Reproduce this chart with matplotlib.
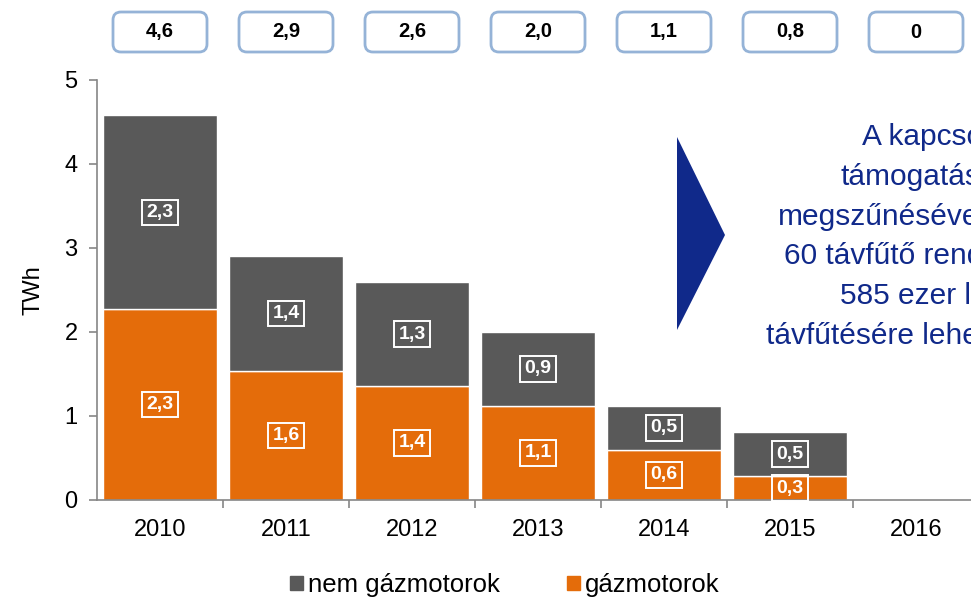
import matplotlib.pyplot as plt
import matplotlib.transforms as mtransforms
from matplotlib.patches import FancyBboxPatch, Polygon, Patch

plt.rcParams['font.family'] = ['Liberation Sans', 'DejaVu Sans']

# ===== DATA =====
years = ['2010', '2011', '2012', '2013', '2014', '2015', '2016']
gaz = [2.27, 1.54, 1.36, 1.12, 0.60, 0.28, 0.0]          # gázmotorok
nem_gaz = [2.31, 1.36, 1.23, 0.88, 0.52, 0.53, 0.0]      # nem gázmotorok
gaz_labels = ['2,3', '1,6', '1,4', '1,1', '0,6', '0,3', '']
nem_gaz_labels = ['2,3', '1,4', '1,3', '0,9', '0,5', '0,5', '']
totals = ['4,6', '2,9', '2,6', '2,0', '1,1', '0,8', '0']
side_lines = ['A kapcsolt termelés', 'támogatásának', 'megszűnésével',
              '60 távfűtő rendszer', '585 ezer lakás', 'távfűtésére lehet hatással']

ORANGE = '#E46C0A'
GRAY = '#595959'
NAVY = '#10298A'
AXIS = '#868686'

fig = plt.figure(figsize=(9.71, 5.98), dpi=100)
ax = fig.add_axes([97 / 971, 98 / 598, 882 / 971, 420 / 598])

x = range(len(years))
ax.bar(x, gaz, width=0.9, color=ORANGE, edgecolor='white', linewidth=1)
ax.bar(x, nem_gaz, width=0.9, bottom=gaz, color=GRAY, edgecolor='white', linewidth=1)

# labels inside the segments
box = dict(boxstyle='square,pad=0.22', fc='none', ec='white', lw=1.4)
for i in x:
    if gaz_labels[i]:
        ax.text(i, gaz[i] / 2, gaz_labels[i], ha='center', va='center', color='white',
                fontsize=14, fontweight='bold', bbox=box)
    if nem_gaz_labels[i]:
        ax.text(i, gaz[i] + nem_gaz[i] / 2, nem_gaz_labels[i], ha='center', va='center',
                color='white', fontsize=14, fontweight='bold', bbox=box)

ax.set_xlim(-0.5, len(years) - 0.5)
ax.set_ylim(0, 5)
ax.set_yticks(range(6))
ax.set_xticks(list(x))
ax.set_xticklabels(years)
ax.set_xticks([i + 0.5 for i in x], minor=True)
ax.tick_params(axis='x', which='major', length=0, pad=14, labelsize=17)
ax.tick_params(axis='x', which='minor', length=6, color=AXIS, width=1.2)
ax.tick_params(axis='y', length=6, color=AXIS, width=1.2, labelsize=17, pad=8)
for s in ['top', 'right']:
    ax.spines[s].set_visible(False)
for s in ['left', 'bottom']:
    ax.spines[s].set_color(AXIS)
    ax.spines[s].set_linewidth(1.2)
ax.set_ylabel('TWh', fontsize=17, labelpad=14)

# total boxes on top
fig.canvas.draw()
trans = mtransforms.blended_transform_factory(ax.transData, fig.transFigure)
for i in x:
    cx, cy = trans.transform((i, 1 - 32 / 598))
    patch = FancyBboxPatch((cx - 47, cy - 20), 94, 40,
                           boxstyle='round,pad=0,rounding_size=8',
                           transform=mtransforms.IdentityTransform(),
                           fc='white', ec='#95B3D7', lw=2)
    fig.add_artist(patch)
    fig.text(cx / fig.bbox.width, cy / fig.bbox.height, totals[i], ha='center',
             va='center', fontsize=14.5, fontweight='bold', color='black')

# arrow + side text
tri = Polygon([(677 / 971, 1 - 137 / 598), (725 / 971, 1 - 235 / 598),
               (677 / 971, 1 - 330 / 598)], closed=True, transform=fig.transFigure,
              fc=NAVY, ec='none')
fig.add_artist(tri)
starts = [862, 840, 778, 784, 840, 766]
for k, line in enumerate(side_lines):
    fig.text(starts[k] / 971, 1 - (137 + 39.8 * k) / 598, line, ha='left', va='center',
             fontsize=21.5, color=NAVY)

# legend
handles = [Patch(color=GRAY, label='nem gázmotorok'), Patch(color=ORANGE, label='gázmotorok')]
fig.legend(handles=handles, loc='center', bbox_to_anchor=(0.52, 1 - 585 / 598), ncol=2,
           frameon=False, fontsize=18.5, handlelength=0.5, handleheight=0.5,
           handletextpad=0.2, columnspacing=2.6)

fig.savefig('out.png', dpi=100)
